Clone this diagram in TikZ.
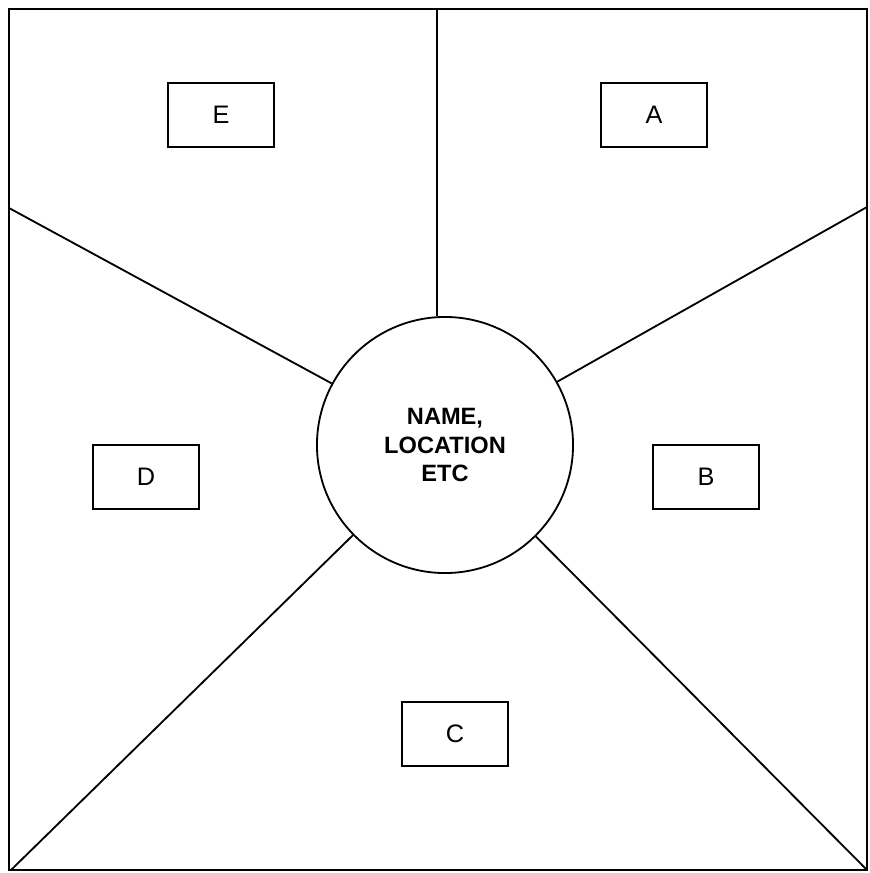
\documentclass[tikz,border=0pt]{standalone}
\usepackage{fontspec}
\setmainfont{Liberation Sans}
\usepackage{tikz}
\usetikzlibrary{positioning}

\begin{document}
\begin{tikzpicture}[
    x=0.025cm, y=-0.025cm,
    every path/.style={line width=1.3pt},
    label box/.style={draw, minimum width=2.65cm, minimum height=1.58cm, inner sep=0pt, font=\fontsize{18}{20}\selectfont},
    hub/.style={draw, circle, minimum size=6.4cm, inner sep=0pt, align=center, font=\fontsize{16.8}{20}\selectfont\bfseries}
]
\useasboundingbox (0,0) rectangle (869,873);
\draw[line width=1.5pt] (9,9) rectangle (867,870);

% centre
\node[hub] (hub) at (445,445) {NAME,\\LOCATION\\ETC};

% rim points
\coordinate (rimTop) at (437,9);
\coordinate (rimR)   at (867,207);
\coordinate (rimL)   at (9,208);
\coordinate (rimBL)  at (11,870);
\coordinate (rimBR)  at (867,870);

\draw (rimTop) -- (rimTop |- hub.north);
\draw (hub) -- (rimR);
\draw (hub) -- (rimL);
\draw (hub) -- (rimBL);
\draw (hub) -- (rimBR);

% sector labels
\node[label box] (boxE) at (221,115) {E};
\node[label box] (boxA) at (654,115) {A};
\node[label box] (boxD) at (146,477) {D};
\node[label box] (boxB) at (706,477) {B};
\node[label box] (boxC) at (455,734) {C};
\end{tikzpicture}
\end{document}
